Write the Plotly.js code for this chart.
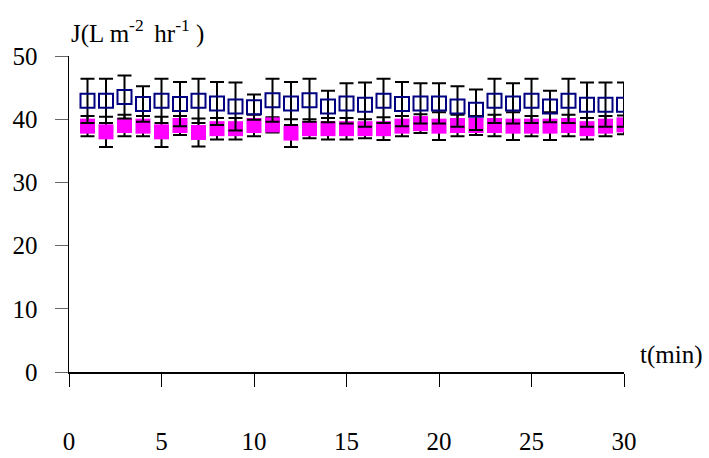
<!DOCTYPE html>
<html>
<head>
<meta charset="utf-8">
<script src="https://cdn.plot.ly/plotly-3.0.1.min.js"></script>
<style>html,body{margin:0;padding:0;background:#fff;}#chart{width:709px;height:458px;}</style>
</head>
<body>
<div id="chart"></div>
<script>
var time = [1,2,3,4,5,6,7,8,9,10,11,12,13,14,15,16,17,18,19,20,21,22,23,24,25,26,27,28,29,30];
var fluxOpen = [42.9,42.9,43.5,42.4,42.9,42.4,42.9,42.5,42.0,41.9,43.0,42.5,43.0,42.0,42.5,42.3,42.9,42.4,42.5,42.5,42.0,41.5,42.9,42.5,42.9,42.0,42.9,42.3,42.3,42.3];
var errOpen = [3.5,3.5,3.4,2.8,3.5,3.5,3.5,3.4,3.8,2.0,3.4,3.4,3.4,2.5,3.2,3.5,3.5,3.5,3.2,3.2,3.2,3.2,3.5,3.2,3.5,2.5,3.5,3.5,3.5,3.5];
var fluxFilled = [38.9,38.0,39.0,38.9,38.0,39.0,37.9,38.5,38.5,39.0,39.1,37.8,38.5,38.5,38.5,38.5,38.5,38.9,39.3,38.9,39.0,39.0,39.0,38.9,38.9,38.9,39.0,38.5,38.9,39.1];
var errFilled = [1.6,2.4,1.7,1.6,2.4,1.5,2.2,1.7,1.7,1.7,1.2,2.2,1.5,1.7,1.7,1.5,1.8,1.6,1.5,2.2,1.7,1.5,1.7,2.2,1.6,2.2,1.7,1.7,1.6,1.5];
var xTicks = [0,5,10,15,20,25,30];
var yTicks = [0,10,20,30,40,50];

var fontFam = 'Liberation Serif, serif';
var fs = 25;

var traces = [
  {
    x: time, y: fluxFilled, type: 'scatter', mode: 'markers',
    marker: {symbol: 'square', size: 15, color: '#FF00FF'},
    error_y: {type: 'data', array: errFilled, visible: true, color: '#000000', thickness: 2, width: 7},
    hoverinfo: 'x+y', showlegend: false
  },
  {
    x: time, y: fluxOpen, type: 'scatter', mode: 'markers',
    marker: {symbol: 'square-open', size: 14, color: '#000080', line: {width: 2, color: '#000080'}},
    error_y: {type: 'data', array: errOpen, visible: true, color: '#000000', thickness: 2, width: 7},
    hoverinfo: 'x+y', showlegend: false
  }
];

var layout = {
  width: 709, height: 458,
  margin: {l: 69, r: 85, t: 56, b: 86},
  paper_bgcolor: '#ffffff', plot_bgcolor: '#ffffff',
  font: {family: fontFam, size: fs, color: '#000000'},
  xaxis: {
    range: [0, 30], tickvals: xTicks, ticktext: xTicks.map(String),
    ticks: 'outside', ticklen: 13, tickwidth: 1, tickcolor: '#000000',
    showline: true, linecolor: '#000000', linewidth: 1.5,
    showgrid: false, zeroline: false,
    ticklabelstandoff: 33,
    tickfont: {family: fontFam, size: fs, color: '#000000'}
  },
  yaxis: {
    range: [0, 50], tickvals: yTicks, ticktext: yTicks.map(String),
    ticks: 'outside', ticklen: 13, tickwidth: 1, tickcolor: '#666666',
    showline: true, linecolor: '#000000', linewidth: 1.5,
    showgrid: false, zeroline: false,
    ticklabelstandoff: 12,
    tickfont: {family: fontFam, size: fs, color: '#000000'}
  },
  annotations: [
    {text: 'J(L m<sup>-2 </sup> hr<sup>-1</sup> )', xref: 'paper', yref: 'paper', x: 0.0, y: 1.019,
     xanchor: 'left', yanchor: 'bottom', showarrow: false, font: {family: fontFam, size: fs, color: '#000000'}},
    {text: 't(min)', xref: 'paper', yref: 'paper', x: 1.025, y: 0.055,
     xanchor: 'left', yanchor: 'middle', showarrow: false, font: {family: fontFam, size: fs, color: '#000000'}}
  ]
};

Plotly.newPlot('chart', traces, layout, {staticPlot: true, displayModeBar: false});
</script>
</body>
</html>
